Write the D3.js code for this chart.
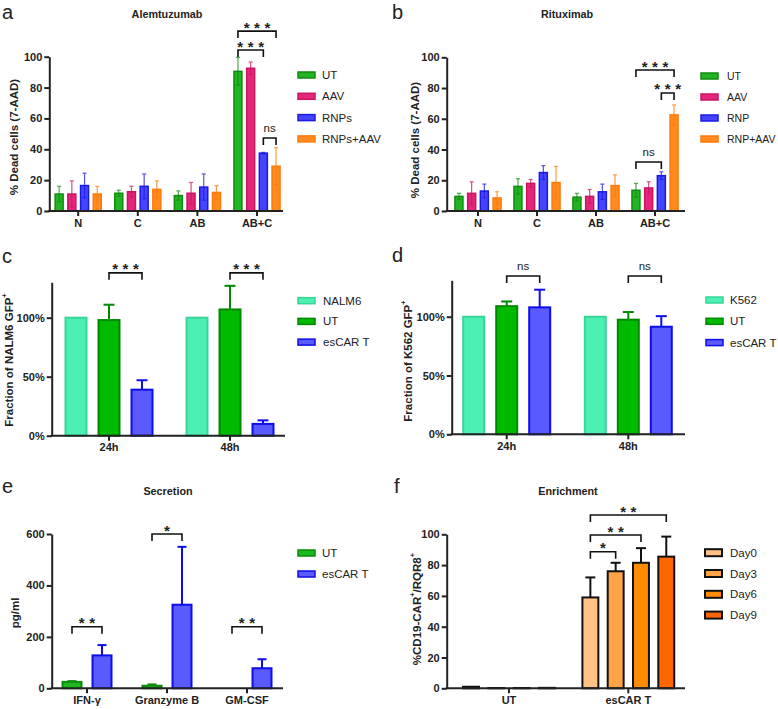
<!DOCTYPE html>
<html><head><meta charset="utf-8">
<script src="https://cdn.jsdelivr.net/npm/d3@7"></script>
<style>
body{margin:0;background:#fff}
svg{display:block}
text{font-family:"Liberation Sans",Arial,sans-serif;fill:#222}
</style>
</head><body>
<svg id="chart" width="778" height="709"></svg>
<script>
// ---------------- DATA ----------------
const abCats = ["N", "C", "AB", "AB+C"];
const aSeries = ["UT", "AAV", "RNPs", "RNPs+AAV"];
const aUT = [11, 11.5, 10, 90.5],   aUTsd = [5, 2, 3, 9];
const aAAV = [11, 12.5, 11.5, 92.5], aAAVsd = [8.5, 3.5, 7, 4];
const aRNP = [16.5, 16, 15.5, 37.5], aRNPsd = [8, 8, 8.5, 0.5];
const aRA = [11, 14, 12, 29],       aRAsd = [5, 5.5, 4.5, 12];

const bSeries = ["UT", "AAV", "RNP", "RNP+AAV"];
const bUT = [9.5, 16, 9, 13.5],     bUTsd = [2, 5, 2.5, 4.5];
const bAAV = [11.5, 18, 9.5, 15],   bAAVsd = [7.5, 2.5, 4.5, 4];
const bRNP = [13, 25, 12.5, 23],    bRNPsd = [4.5, 4.5, 5, 2.5];
const bRA = [8.5, 18.5, 16.5, 62.5], bRAsd = [4, 10.5, 7, 6.5];

const timeCats = ["24h", "48h"];
const cSeries = ["NALM6", "UT", "esCAR T"];
const cNALM6 = [100, 100], cNALM6sd = [0, 0];
const cUT = [98, 107],     cUTsd = [13, 20];
const cCAR = [39, 10],     cCARsd = [8, 3];

const dSeries = ["K562", "UT", "esCAR T"];
const dK562 = [100, 100], dK562sd = [0, 0];
const dUT = [109, 97.5],  dUTsd = [4, 6.5];
const dCAR = [108, 91.5], dCARsd = [15, 9];

const eCats = ["IFN-γ", "Granzyme B", "GM-CSF"];
const eSeries = ["UT", "esCAR T"];
const eUT = [25, 10, 0],     eUTsd = [3, 5, 0];
const eCAR = [128, 325, 78], eCARsd = [40, 225, 35];

const fCats = ["UT", "esCAR T"];
const fSeries = ["Day0", "Day3", "Day6", "Day9"];
const fDay0 = [1, 59],    fDay0sd = [0, 13];
const fDay3 = [0.2, 76],  fDay3sd = [0, 5.5];
const fDay6 = [0.2, 81.5], fDay6sd = [0, 9.5];
const fDay9 = [0.3, 85.5], fDay9sd = [0, 13];

const abTicks = [0, 20, 40, 60, 80, 100];
const pctTicks = [0, 50, 100];
const eTicks = [0, 200, 400, 600];

// ---------------- DRAW ----------------
const svg = d3.select("#chart");

function drawPanel(p) {
  const g = svg.append("g");
  const y = d3.scaleLinear().domain([0, p.yMax]).range([p.y0, p.yTop]);
  const x = d3.scaleBand().domain(p.cats).range(p.xRange);
  const xi = d3.scaleBand().domain(p.series).range([-p.half, p.half])
    .paddingInner(p.pin).paddingOuter(p.pin / 2);
  const cx = c => x(c) + x.bandwidth() / 2;
  const bw = xi.bandwidth();

  // bars
  p.series.forEach((s, si) => {
    const rows = p.cats.map((c, ci) => ({c, v: p.values[si][ci], sd: p.sds[si][ci]}));
    g.append("g").selectAll("rect").data(rows.filter(d => d.v > 0)).join("rect")
      .attr("x", d => cx(d.c) + xi(s))
      .attr("width", bw)
      .attr("y", d => y(d.v))
      .attr("height", d => y(0) - y(d.v))
      .attr("fill", p.fills[si])
      .attr("stroke", p.strokes[si])
      .attr("stroke-width", p.bsw);
    const eb = g.append("g").attr("stroke", p.errColor ? p.errColor : p.strokes[si])
      .attr("stroke-width", p.esw).attr("opacity", p.errOpacity || 1)
      .attr("fill", "none");
    rows.filter(d => d.sd > 0).forEach(d => {
      const mx = cx(d.c) + xi(s) + bw / 2;
      const lo = p.sym ? d.v - d.sd : d.v;
      eb.append("line").attr("x1", mx).attr("x2", mx).attr("y1", y(lo)).attr("y2", y(d.v + d.sd));
      eb.append("line").attr("x1", mx - p.cap / 2).attr("x2", mx + p.cap / 2)
        .attr("y1", y(d.v + d.sd)).attr("y2", y(d.v + d.sd));
      if (p.sym) {
        eb.append("line").attr("x1", mx - p.cap / 2).attr("x2", mx + p.cap / 2)
          .attr("y1", y(lo)).attr("y2", y(lo));
      }
    });
  });

  // y axis
  const ya = g.append("g").attr("transform", `translate(${p.x0},0)`)
    .call(d3.axisLeft(y).tickValues(p.ticks).tickFormat(p.fmt || (d => d)).tickSize(5).tickPadding(2).tickSizeOuter(0));
  ya.select(".domain").attr("stroke", "#222").attr("stroke-width", 2);
  ya.selectAll(".tick line").attr("stroke", "#222").attr("stroke-width", 2);
  ya.selectAll(".tick text").attr("font-size", 11).attr("font-weight", "bold")
    .attr("font-family", "'Liberation Sans',Arial,sans-serif").attr("fill", "#222");

  // x axis
  const xa = g.append("g").attr("transform", `translate(0,${p.y0})`)
    .call(d3.axisBottom(x).tickSize(5).tickPadding(3).tickSizeOuter(0));
  xa.select(".domain").remove();
  xa.append("line").attr("x1", p.x0 - 1).attr("x2", p.x1).attr("y1", 0).attr("y2", 0)
    .attr("stroke", "#222").attr("stroke-width", 2);
  xa.selectAll(".tick line").attr("stroke", "#222").attr("stroke-width", 2);
  xa.selectAll(".tick text").attr("font-size", 11).attr("font-weight", "bold")
    .attr("font-family", "'Liberation Sans',Arial,sans-serif").attr("fill", "#222");

  // title
  if (p.title) {
    g.append("text").attr("x", p.titleX).attr("y", p.titleY).attr("text-anchor", "middle")
      .attr("font-size", 10.8).attr("font-weight", "bold").text(p.title);
  }
  // panel letter
  g.append("text").attr("x", p.letterX).attr("y", p.letterY).attr("font-size", 20)
    .attr("fill", "#111").text(p.letter);

  // y label
  const yl = g.append("text").attr("transform", `translate(${p.ylX},${p.ylY}) rotate(-90)`)
    .attr("text-anchor", "middle").attr("dominant-baseline", "central")
    .attr("font-size", 11.5).attr("font-weight", "bold");
  p.ylabel.forEach(part => {
    if (part.sup) {
      yl.append("tspan").attr("baseline-shift", "super").attr("font-size", 7.5).text(part.t);
    } else {
      yl.append("tspan").text(part.t);
    }
  });

  // legend
  const lg = g.append("g");
  p.series.forEach((s, si) => {
    const ly = p.legY + si * p.legDy;
    lg.append("rect").attr("x", p.legX).attr("y", ly - p.swH / 2).attr("width", 17).attr("height", p.swH)
      .attr("fill", p.fills[si]).attr("stroke", p.strokes[si]).attr("stroke-width", p.lsw);
    lg.append("text").attr("x", p.legTX).attr("y", ly).attr("dominant-baseline", "central")
      .attr("font-size", p.legFs || 11.5).text(s);
  });

  // significance brackets
  const bg = g.append("g");
  p.brackets.forEach(b => {
    const xa1 = cx(b.cat) + xi(b.s1) + bw / 2;
    const xa2 = cx(b.cat) + xi(b.s2) + bw / 2;
    const by = y(b.level);
    bg.append("path").attr("d", `M${xa1},${by + 7}V${by}H${xa2}V${by + 7}`)
      .attr("fill", "none").attr("stroke", "#111").attr("stroke-width", 1.6);
    const mid = (xa1 + xa2) / 2;
    if (b.label === "ns") {
      bg.append("text").attr("x", mid).attr("y", by - 6).attr("text-anchor", "middle")
        .attr("font-size", 11.5).attr("fill", "#333").text("ns");
    } else {
      bg.append("text").attr("x", mid + 2.3).attr("y", by + 1.5).attr("text-anchor", "middle")
        .attr("font-size", 15).attr("font-weight", "bold").attr("letter-spacing", 4.6)
        .attr("fill", "#111").text(b.label);
    }
  });
}

const abFills = ["#22B422", "#E4277C", "#4545FF", "#FF8A1E"];
const abStrokes = ["#118C11", "#C8165F", "#1A1AE6", "#FF7A0A"];

drawPanel({
  cats: abCats, series: aSeries,
  values: [aUT, aAAV, aRNP, aRA], sds: [aUTsd, aAAVsd, aRNPsd, aRAsd],
  fills: abFills, strokes: abStrokes, bsw: 1.5, esw: 1.2, errOpacity: 0.75, sym: true, cap: 4,
  yMax: 100, y0: 211, yTop: 56.7, x0: 49.3, x1: 283, xRange: [48.4, 286.8],
  half: 25.4, pin: 0.37, ticks: abTicks,
  title: "Alemtuzumab", titleX: 167, titleY: 18,
  letter: "a", letterX: 2, letterY: 19,
  ylabel: [{t: "% Dead cells (7-AAD)"}], ylX: 14, ylY: 137,
  legX: 298, legY: 75, legDy: 21.3, legTX: 322, swH: 6, lsw: 1.5,
  brackets: [
    {cat: "AB+C", s1: "UT", s2: "RNPs+AAV", level: 116.6, label: "***"},
    {cat: "AB+C", s1: "UT", s2: "RNPs", level: 104.3, label: "***"},
    {cat: "AB+C", s1: "RNPs", s2: "RNPs+AAV", level: 47.3, label: "ns"}
  ]
});

drawPanel({
  cats: abCats, series: bSeries,
  values: [bUT, bAAV, bRNP, bRA], sds: [bUTsd, bAAVsd, bRNPsd, bRAsd],
  fills: abFills, strokes: abStrokes, bsw: 1.5, esw: 1.2, errOpacity: 0.75, sym: true, cap: 4,
  yMax: 100, y0: 211, yTop: 57.3, x0: 446.7, x1: 685, xRange: [448.5, 684.5],
  half: 25.4, pin: 0.37, ticks: abTicks,
  title: "Rituximab", titleX: 567, titleY: 18,
  letter: "b", letterX: 392, letterY: 19,
  ylabel: [{t: "% Dead cells (7-AAD)"}], ylX: 415, ylY: 140,
  legX: 701, legY: 76, legDy: 21, legTX: 727, legFs: 10.5, swH: 6, lsw: 1.5,
  brackets: [
    {cat: "AB+C", s1: "UT", s2: "RNP+AAV", level: 91.7, label: "***"},
    {cat: "AB+C", s1: "RNP", s2: "RNP+AAV", level: 76.8, label: "***"},
    {cat: "AB+C", s1: "UT", s2: "RNP", level: 31.9, label: "ns"}
  ]
});

const cdFills = ["#4CF0B2", "#00BA00", "#5A5AFF"];
const cdStrokes = ["#38D498", "#008800", "#0E0EEA"];
const pctFmt = d => d + "%";

drawPanel({
  cats: timeCats, series: cSeries,
  values: [cNALM6, cUT, cCAR], sds: [cNALM6sd, cUTsd, cCARsd],
  fills: cdFills, strokes: cdStrokes, bsw: 2, esw: 2, sym: false, cap: 11,
  yMax: 130, y0: 435.7, yTop: 282.3, x0: 51.7, x1: 285, xRange: [48.5, 290.5],
  half: 49.5, pin: 0.364, ticks: pctTicks, fmt: pctFmt,
  letter: "c", letterX: 2, letterY: 263,
  ylabel: [{t: "Fraction of NALM6 GFP"}, {t: "+", sup: true}], ylX: 9, ylY: 360,
  legX: 298, legY: 300.7, legDy: 20.7, legTX: 323, swH: 6, lsw: 1.5,
  brackets: [
    {cat: "24h", s1: "UT", s2: "esCAR T", level: 138, label: "***"},
    {cat: "48h", s1: "UT", s2: "esCAR T", level: 138, label: "***"}
  ]
});

drawPanel({
  cats: timeCats, series: dSeries,
  values: [dK562, dUT, dCAR], sds: [dK562sd, dUTsd, dCARsd],
  fills: cdFills, strokes: cdStrokes, bsw: 2, esw: 2, sym: false, cap: 11,
  yMax: 131, y0: 434.3, yTop: 280.3, x0: 451.7, x1: 685, xRange: [445.9, 689.1],
  half: 49.5, pin: 0.364, ticks: pctTicks, fmt: pctFmt,
  letter: "d", letterX: 392, letterY: 262,
  ylabel: [{t: "Fraction of K562 GFP"}, {t: "+", sup: true}], ylX: 408, ylY: 361,
  legX: 706, legY: 300, legDy: 21.3, legTX: 730, swH: 6, lsw: 1.5,
  brackets: [
    {cat: "24h", s1: "UT", s2: "esCAR T", level: 134.6, label: "ns"},
    {cat: "48h", s1: "UT", s2: "esCAR T", level: 134.6, label: "ns"}
  ]
});

drawPanel({
  cats: eCats, series: eSeries,
  values: [eUT, eCAR], sds: [eUTsd, eCARsd],
  fills: ["#1DB81D", "#5A5AFF"], strokes: ["#0A8A0A", "#0E0EEA"], bsw: 2, esw: 2, sym: false, cap: 9,
  yMax: 600, y0: 688.3, yTop: 534, x0: 51.7, x1: 283, xRange: [47, 287],
  half: 30, pin: 0.367, ticks: eTicks,
  title: "Secretion", titleX: 168, titleY: 495,
  letter: "e", letterX: 2, letterY: 493,
  ylabel: [{t: "pg/ml"}], ylX: 15, ylY: 613,
  legX: 298, legY: 553, legDy: 21, legTX: 322, swH: 6, lsw: 1.5,
  brackets: [
    {cat: "IFN-γ", s1: "UT", s2: "esCAR T", level: 239.5, label: "**"},
    {cat: "Granzyme B", s1: "UT", s2: "esCAR T", level: 600, label: "*"},
    {cat: "GM-CSF", s1: "UT", s2: "esCAR T", level: 239.5, label: "**"}
  ]
});

drawPanel({
  cats: fCats, series: fSeries,
  values: [fDay0, fDay3, fDay6, fDay9], sds: [fDay0sd, fDay3sd, fDay6sd, fDay9sd],
  fills: ["#FFC285", "#FFA347", "#FF8C00", "#FF6600"], strokes: ["#111", "#111", "#111", "#111"],
  bsw: 2, esw: 2, sym: false, cap: 10, errColor: "#111",
  yMax: 100, y0: 688.3, yTop: 534.3, x0: 446.7, x1: 685, xRange: [449.3, 688],
  half: 50.6, pin: 0.37, ticks: abTicks,
  title: "Enrichment", titleX: 568, titleY: 495,
  letter: "f", letterX: 394, letterY: 493,
  ylabel: [{t: "%CD19-CAR"}, {t: "+", sup: true}, {t: "/RQR8"}, {t: "+", sup: true}], ylX: 417, ylY: 609,
  legX: 705, legY: 552.7, legDy: 20.8, legTX: 730, swH: 7, lsw: 2,
  brackets: [
    {cat: "esCAR T", s1: "Day0", s2: "Day3", level: 88.7, label: "*"},
    {cat: "esCAR T", s1: "Day0", s2: "Day6", level: 99.5, label: "**"},
    {cat: "esCAR T", s1: "Day0", s2: "Day9", level: 112.5, label: "**"}
  ]
});
</script>
</body></html>
